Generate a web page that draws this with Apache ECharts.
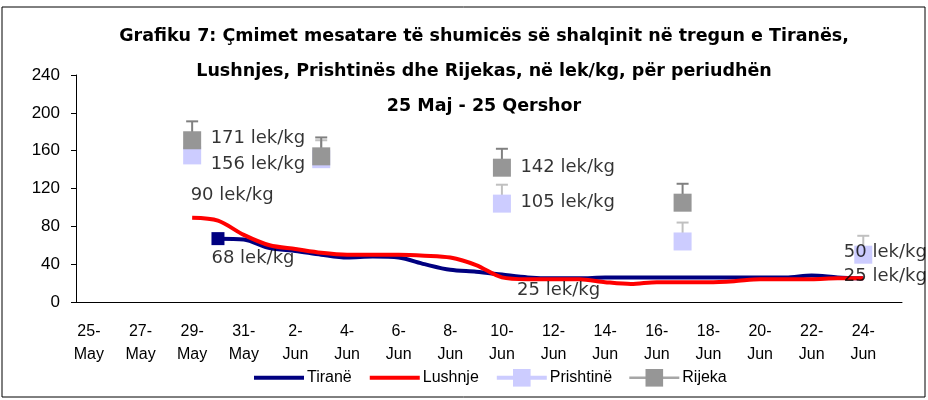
<!DOCTYPE html>
<html>
<head>
<meta charset="utf-8">
<script src="https://cdn.jsdelivr.net/npm/echarts@6/dist/echarts.min.js"></script>
<style>
  html, body { margin: 0; padding: 0; background: #fff; }
  #main { width: 928px; height: 400px; }
</style>
</head>
<body>
<div id="main"></div>
<script>
  var myChart = echarts.init(document.getElementById("main"));

  // kategorite: 25 Maj - 25 Qershor
  var dates = ['25-May', '26-May', '27-May', '28-May', '29-May', '30-May', '31-May',
      '1-Jun', '2-Jun', '3-Jun', '4-Jun', '5-Jun', '6-Jun', '7-Jun', '8-Jun', '9-Jun',
      '10-Jun', '11-Jun', '12-Jun', '13-Jun', '14-Jun', '15-Jun', '16-Jun', '17-Jun',
      '18-Jun', '19-Jun', '20-Jun', '21-Jun', '22-Jun', '23-Jun', '24-Jun', '25-Jun'];

  // cmimet lek/kg
  var tirane = [null, null, null, null, null, 67, 66, 57, 54, 50, 47, 48, 47, 40, 34, 32,
      29, 26, 25, 25, 26, 26, 26, 26, 26, 26, 26, 26, 28, 26, 25, null];
  var lushnje = [null, null, null, null, 89, 86, 71, 60, 56, 52, 50, 50, 50, 49, 47, 39,
      26, 24, 24, 24, 21, 19, 21, 21, 21, 22, 24, 24, 24, 25, 25, null];
  var prishtine = [null, null, null, null, 155, null, null, null, null, 151, null, null, null, null, null, null,
      104, null, null, null, null, null, null, 64, null, null, null, null, null, null, 50, null];
  var rijeka = [null, null, null, null, 171, null, null, null, null, 154, null, null, null, null, null, null,
      142, null, null, null, null, null, null, 105, null, null, null, null, null, null, null, null];
  var errorPlus = 20; // error bar (vlere fikse)

  var yTicks = [0, 40, 80, 120, 160, 200, 240];

  // etiketat e te dhenave
  var noteSeries = ['rijeka', 'prishtine', 'lushnje', 'tirane', 'rijeka', 'prishtine', 'tirane', 'prishtine', 'tirane'];
  var noteCats = [4, 4, 4, 5, 16, 16, 18, 30, 30];
  var noteTexts = ['171 lek/kg', '156 lek/kg', '90 lek/kg', '68 lek/kg', '142 lek/kg', '105 lek/kg',
      '25 lek/kg', '50 lek/kg', '25 lek/kg'];
  var noteOffsets = [[18, -2], [18, 9], [-2, -22], [-7, 20], [18, 0], [18, -1], [-37, 12], [-20, -2], [-20, -2]];

  var seriesData = { tirane: tirane, lushnje: lushnje, prishtine: prishtine, rijeka: rijeka };

  function errData(arr) {
      var out = [];
      for (var i = 0; i < arr.length; i++) {
          if (arr[i] != null) out.push([i, arr[i], arr[i] + errorPlus]);
      }
      return out;
  }

  function errRender(color) {
      return function (params, api) {
          var p0 = api.coord([api.value(0), api.value(1)]);
          var p1 = api.coord([api.value(0), api.value(2)]);
          var style = { stroke: color, lineWidth: 2 };
          return {
              type: 'group',
              children: [
                  { type: 'line', shape: { x1: p0[0], y1: p0[1], x2: p1[0], y2: p1[1] }, style: style },
                  { type: 'line', shape: { x1: p1[0] - 6, y1: p1[1], x2: p1[0] + 6, y2: p1[1] }, style: style }
              ]
          };
      };
  }

  var notes = [];
  for (var i = 0; i < noteCats.length; i++) {
      notes.push({
          value: [noteCats[i], seriesData[noteSeries[i]][noteCats[i]]],
          label: { formatter: noteTexts[i], offset: noteOffsets[i] }
      });
  }

  var option = {
      backgroundColor: '#fff',
      animation: false,
      title: {
          text: 'Grafiku 7: Çmimet mesatare të shumicës së shalqinit në tregun e Tiranës,\nLushnjes, Prishtinës dhe Rijekas, në lek/kg, për periudhën\n25 Maj - 25 Qershor',
          left: 479,
          top: 14,
          textAlign: 'center',
          textStyle: {
              fontFamily: 'DejaVu Sans',
              fontWeight: 'bold',
              fontSize: 17.5,
              lineHeight: 35,
              color: '#000'
          }
      },
      legend: {
          data: [
              { name: 'Tiranë', itemStyle: { opacity: 0 } },
              { name: 'Lushnje', itemStyle: { opacity: 0 } },
              'Prishtinë',
              { name: 'Rijeka', lineStyle: { width: 2.5 } }
          ],
          left: 247,
          top: 364,
          itemWidth: 50,
          itemHeight: 22,
          itemGap: 16,
          lineStyle: { width: 4 },
          textStyle: { fontFamily: 'Liberation Sans', fontSize: 16, color: '#000', padding: [0, 0, 0, -2] }
      },
      grid: { left: 76, right: 26, top: 75, bottom: 98 },
      xAxis: {
          type: 'category',
          data: dates,
          boundaryGap: true,
          axisLine: { lineStyle: { color: '#000', width: 1 } },
          axisTick: { interval: 1, length: 5, lineStyle: { color: '#000' } },
          axisLabel: {
              interval: 1,
              margin: 18,
              fontFamily: 'Liberation Sans',
              fontSize: 16,
              lineHeight: 23,
              color: '#000',
              formatter: function (value) {
                  return value.replace('-', '-\n');
              }
          }
      },
      yAxis: {
          type: 'value',
          min: yTicks[0],
          max: yTicks[yTicks.length - 1],
          interval: 40,
          axisLine: { show: true, lineStyle: { color: '#000', width: 1 } },
          axisTick: { show: true, length: 5, lineStyle: { color: '#000' } },
          splitLine: { show: false },
          axisLabel: { margin: 16, fontFamily: 'Liberation Sans', fontSize: 17, color: '#000' }
      },
      series: [{
              name: 'Tiranë',
              type: 'line',
              data: tirane.map(function (v, i) {
                  return i === 5 ? { value: v, symbol: 'rect', symbolSize: 13 } : v;
              }),
              symbol: 'none',
              showAllSymbol: true,
              smooth: 0.3,
              color: '#000080',
              lineStyle: { color: '#000080', width: 4 },
              itemStyle: { color: '#000080' },
              z: 3
          },
          {
              name: 'Lushnje',
              type: 'line',
              data: lushnje,
              symbol: 'none',
              smooth: 0.3,
              color: '#ff0000',
              lineStyle: { color: '#ff0000', width: 4 },
              z: 4
          },
          {
              name: 'prishtine-err',
              type: 'custom',
              data: errData(prishtine),
              renderItem: errRender('#c0c0c0'),
              silent: true,
              z: 5
          },
          {
              name: 'Prishtinë',
              type: 'line',
              data: prishtine,
              symbol: 'rect',
              symbolSize: 18,
              showAllSymbol: true,
              color: '#ccccff',
              lineStyle: { color: '#ccccff', width: 4 },
              itemStyle: { color: '#ccccff' },
              z: 6
          },
          {
              name: 'rijeka-err',
              type: 'custom',
              data: errData(rijeka),
              renderItem: errRender('#808080'),
              silent: true,
              z: 7
          },
          {
              name: 'Rijeka',
              type: 'line',
              data: rijeka,
              symbol: 'rect',
              symbolSize: 18,
              showAllSymbol: true,
              color: '#969696',
              lineStyle: { color: '#a6a6a6', width: 3 },
              itemStyle: { color: '#969696' },
              z: 8
          },
          {
              name: 'notes',
              type: 'scatter',
              data: notes,
              symbolSize: 1,
              itemStyle: { color: 'rgba(0,0,0,0)' },
              silent: true,
              z: 10,
              label: {
                  show: true,
                  position: 'right',
                  distance: 0,
                  fontFamily: 'DejaVu Sans',
                  fontSize: 18,
                  color: '#000'
              }
          }
      ],
      graphic: [{
          type: 'rect',
          shape: { x: 2, y: 7, width: 923, height: 390 },
          style: { fill: 'none', stroke: '#000', lineWidth: 1 },
          silent: true,
          z: -1
      }]
  };

  myChart.setOption(option);
</script>
</body>
</html>
